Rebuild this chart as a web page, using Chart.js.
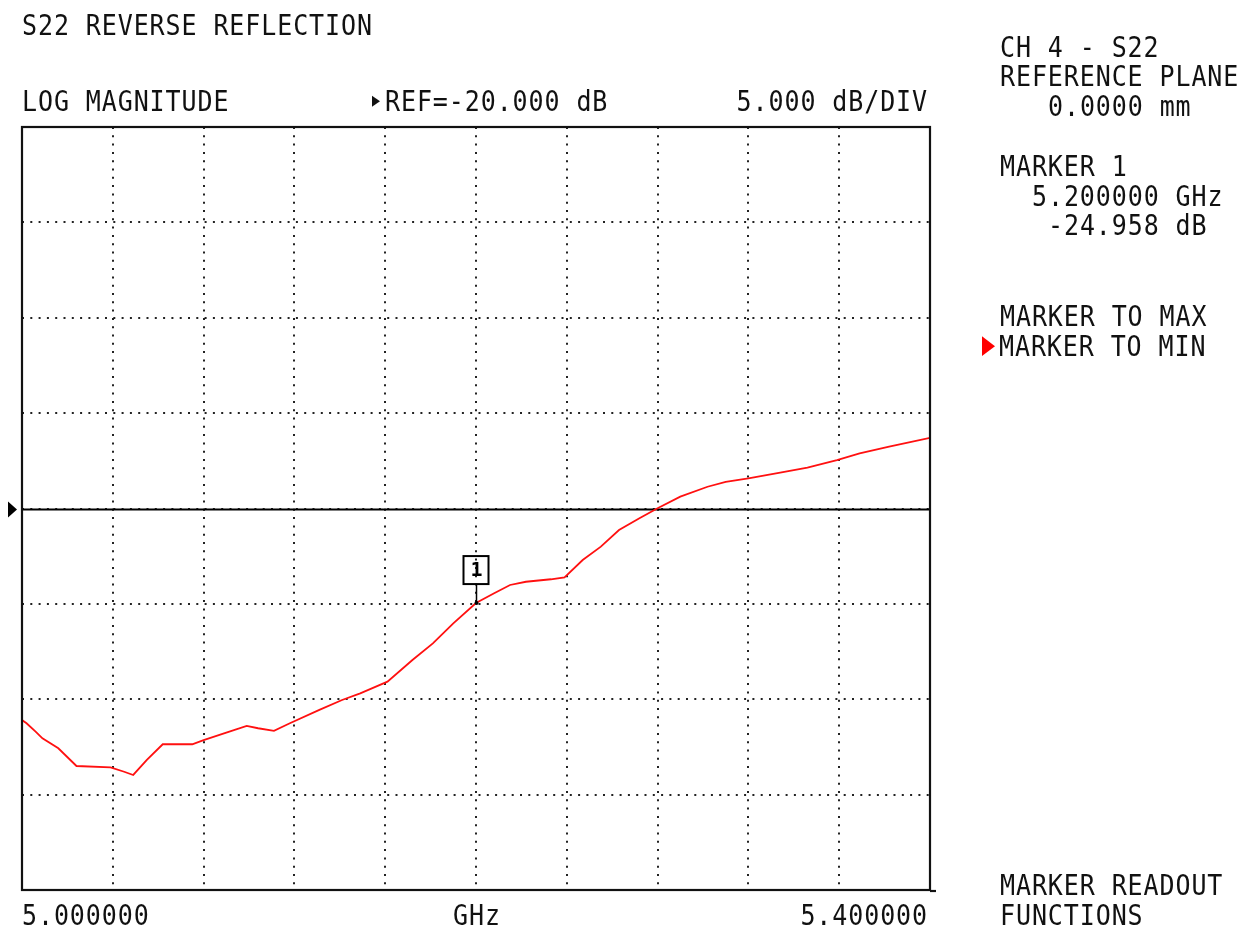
<!DOCTYPE html>
<html><head><meta charset="utf-8">
<script src="https://cdn.jsdelivr.net/npm/chart.js@4"></script>
<style>
html,body{margin:0;padding:0;background:#fff;}
#wrap{position:relative;width:1254px;height:930px;overflow:hidden;background:#fff;}
canvas{position:absolute;left:0;top:0;}
.t{position:absolute;font-family:"DejaVu Sans Mono","Liberation Mono",monospace;font-size:25px;line-height:25px;letter-spacing:0.9px;color:#111;white-space:pre;transform:scaleY(1.1);transform-origin:0 0;}
.tri{display:inline-block;width:0;height:0;border-style:solid;vertical-align:middle;}
</style></head><body>
<div id="wrap"><canvas id="c" width="1254" height="930"></canvas></div>
<script>
// ---- data ----
const freqGHz = [5.000,5.002,5.006,5.009,5.016,5.024,5.039,5.045,5.049,5.055,5.062,5.075,5.080,5.090,5.099,5.104,5.111,5.118,5.131,5.141,5.149,5.161,5.172,5.181,5.190,5.200,5.208,5.215,5.222,5.233,5.239,5.247,5.255,5.263,5.272,5.280,5.290,5.302,5.310,5.320,5.334,5.346,5.359,5.369,5.382,5.400];
const s22dB   = [-31.09,-31.26,-31.70,-32.05,-32.57,-33.50,-33.57,-33.80,-33.97,-33.18,-32.36,-32.36,-32.14,-31.75,-31.40,-31.52,-31.66,-31.26,-30.56,-30.04,-29.69,-29.08,-27.94,-27.07,-26.02,-24.958,-24.44,-24.01,-23.84,-23.71,-23.61,-22.70,-22.00,-21.13,-20.51,-19.99,-19.38,-18.86,-18.60,-18.42,-18.12,-17.86,-17.46,-17.11,-16.76,-16.30];
const xStartGHz = 5.0, xStopGHz = 5.4, xDivisions = 10;
const refLevelDb = -20, dbPerDiv = 5, yDivisions = 8;
const markerFreqGHz = 5.2, markerDb = -24.958, markerLabel = '1';
const xAxisLabels = ['5.000000', 'GHz', '5.400000'];
const titleText = 'S22 REVERSE REFLECTION';
const formatText = 'LOG MAGNITUDE';
const refText = 'REF=-20.000 dB';
const scaleText = '5.000 dB/DIV';
const sideTexts = ['CH 4 - S22','REFERENCE PLANE','0.0000 mm','MARKER 1','5.200000 GHz','-24.958 dB','MARKER TO MAX','MARKER TO MIN','MARKER READOUT','FUNCTIONS'];

// ---- text ----
const wrap = document.getElementById('wrap');
function addText(str, left, top, opts) {
  const d = document.createElement('div');
  d.className = 't';
  d.style.top = top + 'px';
  if (opts && opts.right !== undefined) { d.style.right = opts.right + 'px'; }
  else d.style.left = left + 'px';
  if (opts && opts.html) d.innerHTML = opts.html + str; else d.textContent = str;
  wrap.appendChild(d);
  return d;
}
addText(titleText, 22, 12);
addText(formatText, 22, 88);
addText(refText, 372, 88, {html:'<span class="tri" style="border-width:5px 0 5px 8px;border-color:transparent transparent transparent #111;margin:-4px 5px 0 0"></span>'});
addText(scaleText, 0, 88, {right: 1254-928});
addText(sideTexts[0], 1000, 34);
addText(sideTexts[1], 1000, 63);
addText(sideTexts[2], 1048, 93);
addText(sideTexts[3], 1000, 153);
addText(sideTexts[4], 1032, 183);
addText(sideTexts[5], 1048, 212);
addText(sideTexts[6], 1000, 303);
addText(sideTexts[7], 982, 333, {html:'<span class="tri" style="border-width:9px 0 9px 13px;border-color:transparent transparent transparent #ff0000;margin:-4px 4px 0 0"></span>'});
addText(sideTexts[8], 1000, 872);
addText(sideTexts[9], 1000, 902);
addText(xAxisLabels[0], 22, 902);
const g = addText(xAxisLabels[1], 0, 902); g.style.left = '453px';
addText(xAxisLabels[2], 0, 902, {right: 1254-928});

// ---- chart ----
const yMin = refLevelDb - dbPerDiv * yDivisions / 2;
const yMax = refLevelDb + dbPerDiv * yDivisions / 2;

const instrumentPlugin = {
  id: 'instrument',
  beforeDatasetsDraw(chart) {
    const {ctx, chartArea: a, scales: {y}} = chart;
    const yr = Math.round(y.getPixelForValue(refLevelDb)) + 0.5;
    ctx.save();
    ctx.strokeStyle = '#000';
    ctx.lineWidth = 2;
    ctx.beginPath(); ctx.moveTo(a.left, yr); ctx.lineTo(a.right, yr); ctx.stroke();
    ctx.fillStyle = '#000';
    ctx.beginPath(); ctx.moveTo(8, yr - 8); ctx.lineTo(17, yr); ctx.lineTo(8, yr + 8); ctx.closePath(); ctx.fill();
    ctx.restore();
  },
  afterDatasetsDraw(chart) {
    const {ctx, chartArea: a, scales: {x, y}} = chart;
    ctx.save();
    ctx.strokeStyle = '#111';
    ctx.lineWidth = 2.2;
    ctx.strokeRect(a.left, a.top, a.right - a.left, a.bottom - a.top);
    ctx.beginPath(); ctx.moveTo(a.right, a.bottom + 1); ctx.lineTo(a.right + 6, a.bottom + 1); ctx.stroke();
    const mx = Math.round(x.getPixelForValue(markerFreqGHz)) + 0.5;
    const my = y.getPixelForValue(markerDb);
    ctx.strokeStyle = '#000';
    ctx.lineWidth = 1.5;
    ctx.beginPath(); ctx.moveTo(mx, my - 19); ctx.lineTo(mx, my); ctx.stroke();
    ctx.lineWidth = 2;
    ctx.strokeRect(mx - 13, my - 47, 25, 28);
    ctx.fillStyle = '#000';
    ctx.font = 'bold 20px "DejaVu Sans Mono", monospace';
    ctx.textAlign = 'center';
    ctx.textBaseline = 'middle';
    ctx.fillText(markerLabel, mx, my - 32);
    ctx.beginPath(); ctx.arc(mx, my, 2, 0, Math.PI * 2); ctx.fill();
    ctx.restore();
  }
};

new Chart(document.getElementById('c'), {
  type: 'line',
  data: {
    datasets: [{
      data: freqGHz.map((f, i) => ({x: f, y: s22dB[i]})),
      borderColor: '#ff1010',
      borderWidth: 1.8,
      pointRadius: 0,
      tension: 0,
      fill: false
    }]
  },
  options: {
    responsive: false,
    animation: false,
    events: [],
    layout: {padding: {left: 22, top: 127, right: 324, bottom: 40}},
    plugins: {legend: {display: false}, tooltip: {enabled: false}, title: {display: false}},
    scales: {
      x: {
        type: 'linear', min: xStartGHz, max: xStopGHz,
        afterBuildTicks(s) {
          const t = [];
          for (let i = 0; i <= xDivisions; i++) t.push({value: xStartGHz + (xStopGHz - xStartGHz) * i / xDivisions});
          s.ticks = t;
        },
        ticks: {display: false},
        grid: {color: '#222', lineWidth: 2, drawTicks: false},
        border: {display: false, dash: [2, 6.3]}
      },
      y: {
        type: 'linear', min: yMin, max: yMax,
        afterBuildTicks(s) {
          const t = [];
          for (let i = 0; i <= yDivisions; i++) t.push({value: yMin + dbPerDiv * i});
          s.ticks = t;
        },
        ticks: {display: false},
        grid: {color: '#222', lineWidth: 2, drawTicks: false},
        border: {display: false, dash: [2, 6.3]}
      }
    }
  },
  plugins: [instrumentPlugin]
});
</script>
</body></html>
